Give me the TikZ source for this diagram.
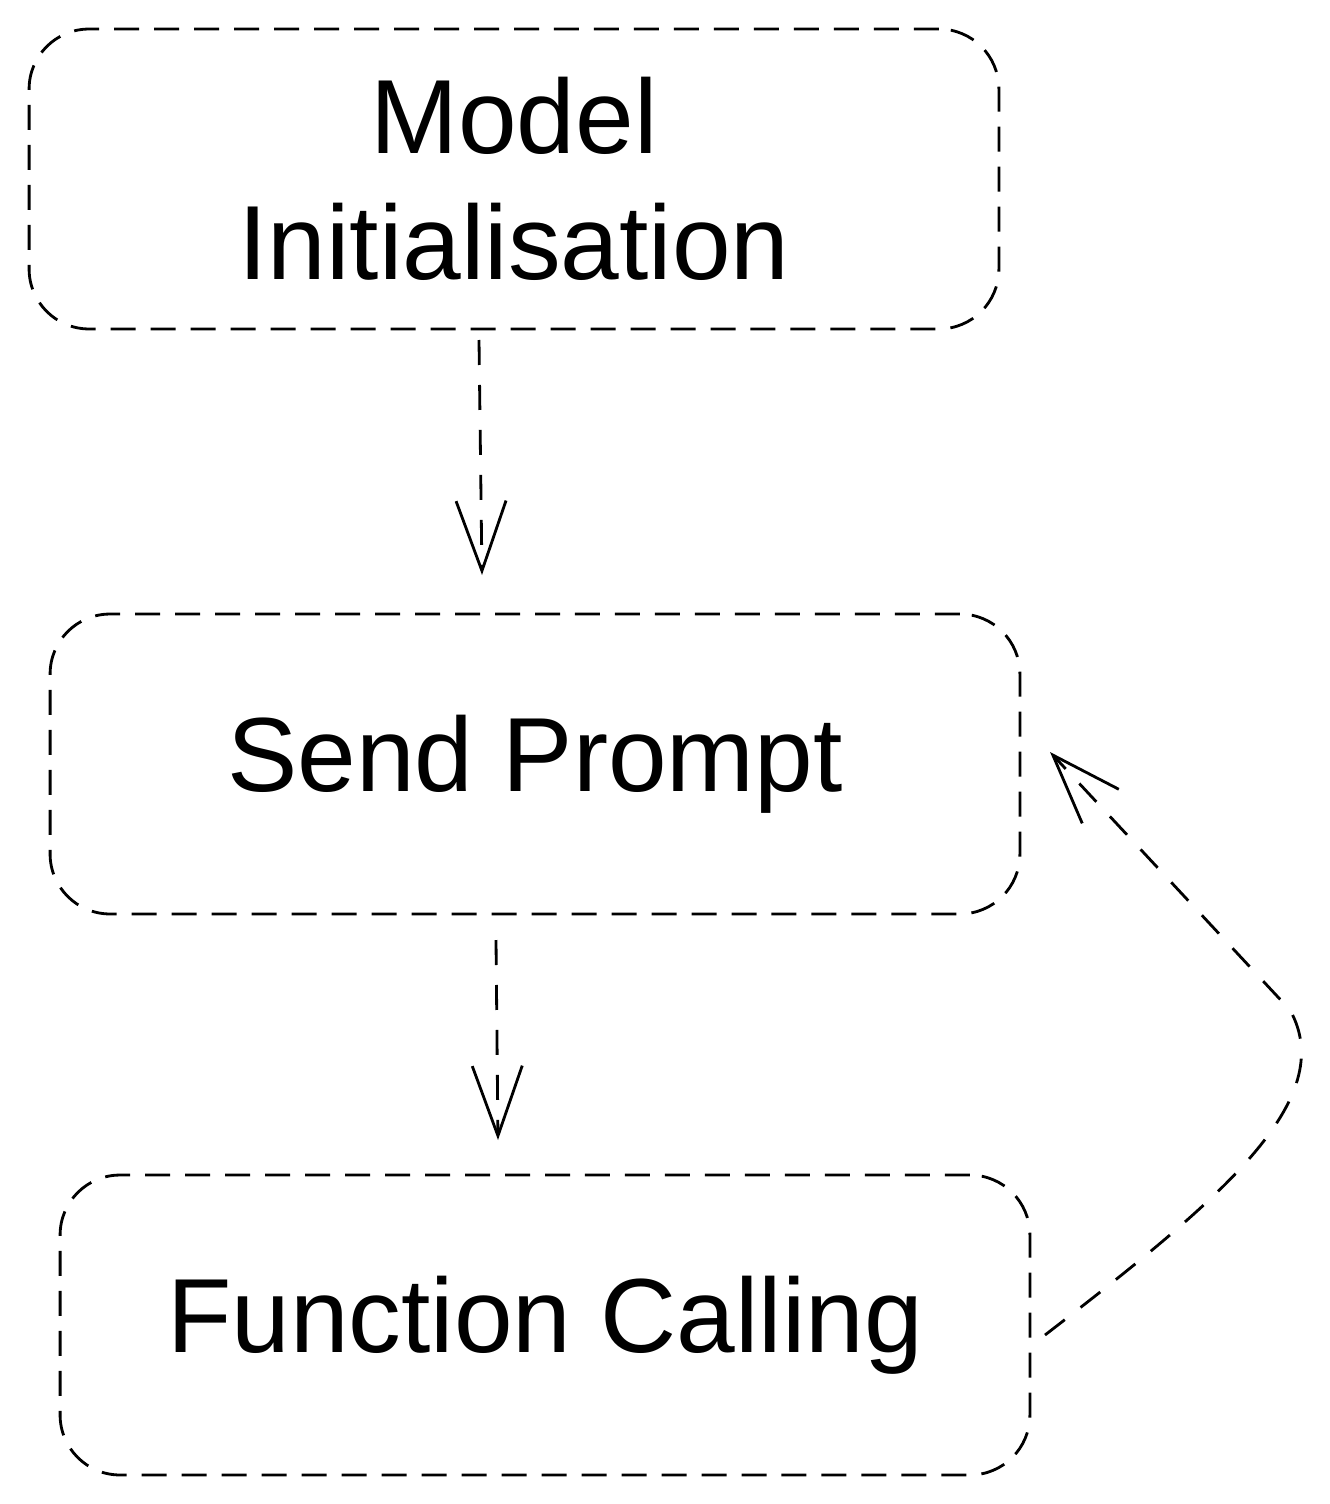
\documentclass[tikz,border=0pt]{standalone}
\usepackage{fontspec}
\setmainfont{Liberation Sans}
\usetikzlibrary{arrows.meta,positioning}

\begin{document}
\begin{tikzpicture}[x=0.02cm,y=-0.02cm,
    stepbox/.style={draw,dashed,dash pattern=on 0.5cm off 0.3cm,line width=1.6pt,rounded corners=1.2cm,
        minimum width=19.4cm,minimum height=6cm,align=center,font=\fontsize{60}{72}\selectfont},
    flow/.style={draw,dashed,dash pattern=on 0.5cm off 0.4cm,line width=1.6pt,-{Straight Barb[length=1.4cm,width=1.0cm,line width=1.6pt]}}]
    \useasboundingbox (0,0) rectangle (1329,1504);

    \node[stepbox] (init) at (514,179) {Model\\Initialisation};
    \node[stepbox] (prompt) at (535,764) {Send Prompt};
    \node[stepbox] (call) at (545,1325) {Function Calling};

    \coordinate (a1) at (479,340);
    \coordinate (a2) at (482,575);
    \coordinate (b1) at (496,940);
    \coordinate (b2) at (498,1140);
    \coordinate (r1) at (1045,1335);
    \coordinate (r2) at (1050,752);

    \draw[flow] (a1) -- (a2);
    \draw[flow] (b1) -- (b2);
    \draw[flow] (r1) .. controls (1220,1200) and (1340,1100) .. (1290,1010) -- (r2);
\end{tikzpicture}
\end{document}
